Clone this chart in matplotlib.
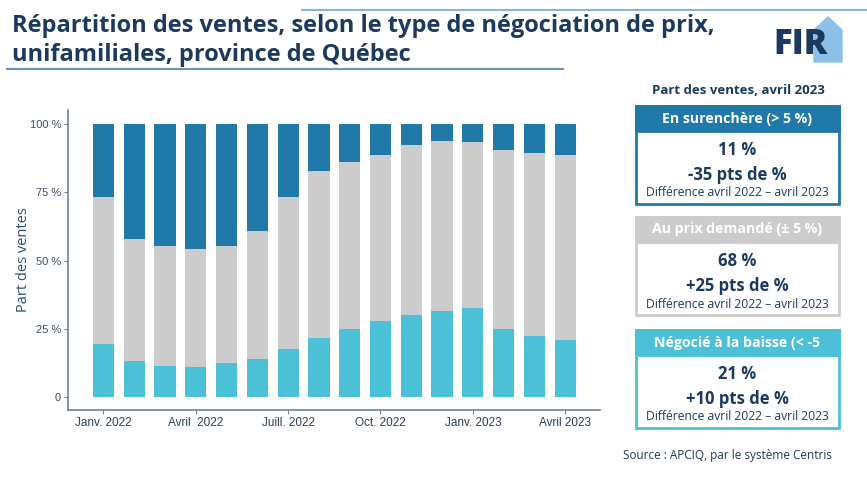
import numpy as np
import matplotlib.pyplot as plt
from matplotlib.patches import Rectangle, Polygon

# données (part des ventes, %)
mois = ['Janv. 2022', 'Févr. 2022', 'Mars 2022', 'Avril 2022', 'Mai 2022', 'Juin 2022',
        'Juill. 2022', 'Août 2022', 'Sept. 2022', 'Oct. 2022', 'Nov. 2022', 'Déc. 2022',
        'Janv. 2023', 'Févr. 2023', 'Mars 2023', 'Avril 2023']
baisse = [19.5, 13.4, 11.6, 11.2, 12.4, 13.9, 17.7, 21.8, 25.1, 27.8, 30.1, 31.5, 32.5, 24.9, 22.6, 21.0]
demande = [53.8, 44.5, 43.6, 43.0, 42.8, 47.1, 55.6, 61.1, 60.8, 60.8, 62.2, 62.1, 60.9, 65.6, 66.6, 67.8]
surenchere = [26.7, 42.1, 44.8, 45.8, 44.8, 39.0, 26.7, 17.1, 14.1, 11.4, 7.7, 6.4, 6.6, 9.5, 10.8, 11.2]

tick_pos = [0, 3, 6, 9, 12, 15]
tick_labels = ['Janv. 2022', 'Avril  2022', 'Juill. 2022', 'Oct. 2022', 'Janv. 2023', 'Avril 2023']

panel_titres = ['En surenchère (> 5 %)', 'Au prix demandé (± 5 %)', 'Négocié à la baisse (< -5']
panel_valeurs = ['11 %', '68 %', '21 %']
panel_diffs = ['-35 pts de %', '+25 pts de %', '+10 pts de %']

c_haut = '#2079a9'
c_gris = '#cccccc'
c_bas = '#4bc0d6'
navy = '#1c3a5e'
axe_col = '#6f8294'

plt.rcParams['font.family'] = ['Open Sans', 'DejaVu Sans']

fig = plt.figure(figsize=(8.67, 4.82), dpi=100)

# --- graphique principal
ax = fig.add_axes([68 / 867, 1 - 410 / 482, 532 / 867, 300 / 482])
x = np.arange(len(mois))
w = 0.69
b = np.array(baisse)
d = np.array(demande)
s = np.array(surenchere)
ax.bar(x, b, w, color=c_bas)
ax.bar(x, d, w, bottom=b, color=c_gris)
ax.bar(x, s, w, bottom=b + d, color=c_haut)

ax.set_xlim(-1.15, 16.13)
ax.set_ylim(-4.65, 105.1)
ax.set_yticks([0, 25, 50, 75, 100])
ax.set_yticklabels(['0', '25 %', '50 %', '75 %', '100 %'], family='Liberation Sans',
                   fontsize=8, color='#3d4f63')
ax.set_xticks(tick_pos)
ax.set_xticklabels(tick_labels, family='Liberation Sans', fontsize=8.5, color='#2b3f57')
ax.tick_params(axis='both', length=3, color=axe_col, width=0.8, pad=2)
for sp in ['top', 'right']:
    ax.spines[sp].set_visible(False)
for sp in ['left', 'bottom']:
    ax.spines[sp].set_color(axe_col)
    ax.spines[sp].set_linewidth(1.2)
ax.set_ylabel('Part des ventes', fontsize=10.5, color='#2a4f78', labelpad=-1)

# --- couche de mise en page en pixels
top = fig.add_axes([0, 0, 1, 1], zorder=5)
top.set_xlim(0, 867)
top.set_ylim(482, 0)
top.axis('off')

top.plot([302, 867], [10, 10], color='#8db6d6', lw=1.5)
top.plot([7, 563], [69, 69], color='#6b93b5', lw=1.5)
top.text(12, 26, 'Répartition des ventes, selon le type de négociation de prix,',
         fontsize=17, fontweight='bold', color=navy, va='center')
top.text(12, 55, 'unifamiliales, province de Québec',
         fontsize=17, fontweight='bold', color=navy, va='center')

# logo
top.add_patch(Polygon([[814, 62], [814, 30], [828, 17], [842, 30], [842, 62]],
                      closed=True, color='#8cc0e6', zorder=1))
top.text(800, 45, 'FIR', fontsize=25, fontweight='heavy', color=navy,
         ha='center', va='center', zorder=2)

# panneau de droite
top.text(738, 91, 'Part des ventes, avril 2023', fontsize=9.5, fontweight='bold',
         color=navy, ha='center', va='center')
couleurs = [c_haut, c_gris, c_bas]
y0s = [106, 217, 330]
for i in range(3):
    y0 = y0s[i]
    col = couleurs[i]
    top.add_patch(Rectangle((636, y0), 203, 98, facecolor='white', edgecolor=col, lw=2))
    top.add_patch(Rectangle((636, y0), 203, 25, facecolor=col, edgecolor=col, lw=2))
    top.text(737, y0 + 12.5, panel_titres[i], fontsize=10.2, fontweight='bold',
             color='white', ha='center', va='center')
    top.text(737, y0 + 44, panel_valeurs[i], fontsize=12, fontweight='bold',
             color=navy, ha='center', va='center')
    top.text(737, y0 + 69, panel_diffs[i], fontsize=12, fontweight='bold',
             color=navy, ha='center', va='center')
    top.text(737, y0 + 87, 'Différence avril 2022 – avril 2023', fontsize=8.7,
             color=navy, ha='center', va='center')

top.text(832, 455, 'Source : APCIQ, par le système Centris', fontsize=8.5,
         color=navy, ha='right', va='center')

fig.savefig('out.png', dpi=100)
